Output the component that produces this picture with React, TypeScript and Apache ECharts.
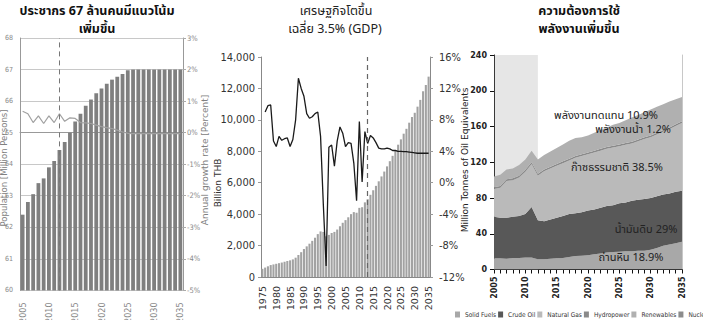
import React, { useEffect, useRef } from "react";
import * as echarts from "echarts";

// ---------- Chart 1: population ----------
const popYears = ["2005","2006","2007","2008","2009","2010","2011","2012","2013","2014","2015","2016","2017","2018","2019","2020","2021","2022","2023","2024","2025","2026","2027","2028","2029","2030","2031","2032","2033","2034","2035"];
const population = [62.4, 62.8, 63.05, 63.4, 63.55, 63.9, 64.1, 64.45, 64.7, 65.0, 65.35, 65.6, 65.85, 66.05, 66.25, 66.4, 66.55, 66.68, 66.77, 66.86, 66.98, 67, 67, 67, 67, 67, 67, 67, 67, 67, 67];
const popGrowth = [0.68, 0.6, 0.32, 0.53, 0.29, 0.53, 0.32, 0.6, 0.36, 0.47, 0.45, 0.32, 0.31, 0.29, 0.24, 0.19, 0.16, 0.13, 0.08, 0.02, -0.02, -0.03, -0.03, -0.03, -0.03, -0.03, -0.03, -0.03, -0.03, -0.03, -0.03];

// ---------- Chart 2: GDP ----------
const gdpYears = ["1975","1976","1977","1978","1979","1980","1981","1982","1983","1984","1985","1986","1987","1988","1989","1990","1991","1992","1993","1994","1995","1996","1997","1998","1999","2000","2001","2002","2003","2004","2005","2006","2007","2008","2009","2010","2011","2012","2013","2014","2015","2016","2017","2018","2019","2020","2021","2022","2023","2024","2025","2026","2027","2028","2029","2030","2031","2032","2033","2034","2035"];
const gdp = [520, 600, 680, 760, 800, 840, 880, 920, 970, 1020, 1060, 1120, 1230, 1400, 1580, 1780, 1950, 2120, 2300, 2500, 2730, 2900, 2870, 2590, 2680, 2800, 2870, 3020, 3230, 3450, 3620, 3800, 4000, 4130, 4090, 4400, 4440, 4750, 4950, 5230, 5520, 5800, 6090, 6400, 6710, 7040, 7370, 7710, 8060, 8420, 8760, 9120, 9430, 9820, 10180, 10450, 10840, 11270, 11820, 12220, 12750];
const gdpGrowth = [null, 9.0, 9.8, 9.9, 5.3, 4.6, 5.9, 5.4, 5.6, 5.7, 4.6, 5.5, 8.0, 13.3, 12.0, 11.0, 8.8, 8.2, 8.4, 8.8, 9.0, 5.9, -2.8, -10.6, 4.5, 4.8, 2.1, 5.3, 7.1, 6.3, 4.6, 5.1, 5.0, 2.5, -2.3, 7.8, 0.1, 6.5, 5.0, 6.0, 5.7, 5.1, 4.4, 4.3, 4.3, 4.4, 4.3, 4.1, 4.1, 4.0, 4.0, 3.95, 3.95, 3.9, 3.85, 3.8, 3.75, 3.75, 3.75, 3.75, 3.75];

// ---------- Chart 3: energy demand ----------
const energyYears = ["2005","2006","2007","2008","2009","2010","2011","2012","2013","2014","2015","2016","2017","2018","2019","2020","2021","2022","2023","2024","2025","2026","2027","2028","2029","2030","2031","2032","2033","2034","2035"];
const solidFuels = [12.5, 12.5, 12, 13, 13, 13.5, 13.5, 11.5, 11.5, 12, 12.5, 13, 14, 15, 15.5, 16, 17, 18, 19, 19.5, 20, 20.5, 20.5, 21, 21, 22, 24, 26.5, 28, 29.5, 31];
const crudeOil = [46.5, 45.5, 46, 46, 47, 48.5, 56.5, 43.5, 42.5, 44, 45.5, 47, 48, 48, 48.5, 50, 50, 51, 52, 52.5, 54, 54.5, 56.5, 57, 58, 58, 58, 57.5, 57, 57.5, 57];
const naturalGas = [31, 33.5, 41, 41, 43, 47.5, 48, 50, 56, 57, 58, 59, 60, 62, 63, 63, 64, 64, 64, 64.5, 64, 64.5, 64, 65.5, 67, 68, 69, 70, 72, 73.5, 76];
const hydropower = [2, 2, 2, 2, 2, 2, 2, 2, 2, 2, 2, 2, 2, 2, 2, 2, 2, 2, 2, 2, 2, 2, 2, 2, 2, 2, 2, 2, 2, 2, 2];
const renewables = [12, 12.5, 11, 11, 12, 11.5, 13, 16, 16, 17, 18, 19, 20, 20, 19, 19, 20, 21, 22, 23.5, 24, 25.5, 27, 27.5, 28, 29, 29, 29, 29, 28, 27];
const nuclear = [0, 0, 0, 0, 0, 0, 0, 0, 0, 0, 0, 0, 0, 0, 0, 0, 0, 0, 0, 0, 0, 0, 0, 0, 0, 0, 0, 0, 0, 0, 0];
const energyNames = ["Solid Fuels", "Crude Oil", "Natural Gas", "Hydropower", "Renewables", "Nuclear"];
const energyColors = ["#a8a8a8", "#585858", "#bababa", "#8a8a8a", "#b0b0b0", "#8c8c8c"];

const NARROW = "'Liberation Sans Narrow', 'DejaVu Sans Condensed', 'Arial Narrow', sans-serif";
const SANS = "'DejaVu Sans', Verdana, sans-serif";
const THAI = "'Noto Sans Thai', 'Noto Sans', 'DejaVu Sans', sans-serif";

function buildOption() {
  const energySeries = [solidFuels, crudeOil, naturalGas, hydropower, renewables, nuclear].map((d, i) => ({
    name: energyNames[i],
    type: "line",
    xAxisIndex: 2,
    yAxisIndex: 4,
    stack: "energy",
    data: d,
    symbol: "none",
    lineStyle: { width: 0 },
    itemStyle: { color: energyColors[i] },
    areaStyle: { color: energyColors[i], opacity: 1 },
  }));

  const text = (x: number, y: number, t: string, style: any, rotation = 0) => ({
    type: "text",
    x,
    y,
    rotation,
    z: 50,
    style: { text: t, align: "center", verticalAlign: "middle", ...style },
  });

  return {
    animation: false,
    grid: [
      { left: 20, top: 38, width: 163, height: 257 },
      { left: 261, top: 57, width: 169, height: 220 },
      { left: 494, top: 55, width: 188, height: 214.5 },
    ],
    legend: {
      data: energyNames,
      left: 455,
      top: 311,
      width: 600,
      padding: 0,
      icon: "rect",
      itemWidth: 5,
      itemHeight: 6,
      itemGap: 2,
      textStyle: { fontSize: 6.5, fontFamily: NARROW, color: "#333" },
    },
    xAxis: [
      {
        type: "category", gridIndex: 0, data: popYears,
        axisLine: { lineStyle: { color: "#999" } },
        axisTick: { interval: 0, length: 4, lineStyle: { color: "#aaa" } },
        axisLabel: { interval: 4, rotate: 90, fontSize: 9, color: "#888", fontFamily: NARROW, margin: 12 },
      },
      {
        type: "category", gridIndex: 1, data: gdpYears,
        axisLine: { lineStyle: { color: "#888" } },
        axisTick: { interval: 0, length: 3, lineStyle: { color: "#999" } },
        axisLabel: { interval: 4, rotate: 90, fontSize: 9.5, color: "#333", fontFamily: SANS, margin: 9 },
      },
      {
        type: "category", gridIndex: 2, data: energyYears, boundaryGap: false,
        axisLine: { lineStyle: { color: "#111" } },
        axisTick: { interval: 0, length: 4, lineStyle: { color: "#111" } },
        axisLabel: { interval: 4, rotate: 90, fontSize: 8, fontWeight: "bold", color: "#222", fontFamily: SANS, margin: 7 },
      },
    ],
    yAxis: [
      {
        type: "value", gridIndex: 0, min: 60, max: 68, interval: 1,
        axisLine: { show: true, lineStyle: { color: "#999" } },
        axisTick: { show: false },
        splitLine: { lineStyle: { color: "#c8c8c8" } },
        axisLabel: { fontSize: 7, color: "#888", fontFamily: NARROW, margin: 7 },
      },
      {
        type: "value", gridIndex: 0, position: "right", min: -5, max: 3, interval: 1,
        axisLine: { show: true, lineStyle: { color: "#999" } },
        axisTick: { show: true, length: 3, lineStyle: { color: "#aaa" } },
        splitLine: { show: false },
        axisLabel: { fontSize: 7.5, color: "#888", fontFamily: NARROW, margin: 4, formatter: (v: number) => v + "%" },
      },
      {
        type: "value", gridIndex: 1, min: 0, max: 14000, interval: 2000,
        axisLine: { show: true, lineStyle: { color: "#888" } },
        axisTick: { show: true, length: 3, lineStyle: { color: "#999" } },
        splitLine: { show: false },
        axisLabel: { fontSize: 11, color: "#333", fontFamily: NARROW, margin: 6, formatter: (v: number) => v.toLocaleString("en-US") },
      },
      {
        type: "value", gridIndex: 1, position: "right", min: -12, max: 16, interval: 4,
        axisLine: { show: true, lineStyle: { color: "#888" } },
        axisTick: { show: true, length: 3, lineStyle: { color: "#999" } },
        splitLine: { show: false },
        axisLabel: { fontSize: 11, color: "#333", fontFamily: NARROW, margin: 9, formatter: (v: number) => v + "%" },
      },
      {
        type: "value", gridIndex: 2, min: 0, max: 240, interval: 40,
        axisLine: { show: true, lineStyle: { color: "#111" } },
        axisTick: { show: true, length: 4, lineStyle: { color: "#111" } },
        splitLine: { show: false },
        axisLabel: { fontSize: 8, fontWeight: "bold", color: "#222", fontFamily: SANS, margin: 7 },
      },
      {
        type: "value", gridIndex: 2, position: "right", min: 0, max: 240, interval: 40,
        axisLine: { show: true, lineStyle: { color: "#c8c8c8" } },
        axisTick: { show: false },
        axisLabel: { show: false },
        splitLine: { show: false },
      },
    ],
    series: [
      {
        name: "Population", type: "bar", xAxisIndex: 0, yAxisIndex: 0, data: population,
        barCategoryGap: "28%", itemStyle: { color: "#7f7f7f" },
        markLine: {
          silent: true, symbol: "none", label: { show: false },
          lineStyle: { type: [5, 4], color: "#777", width: 1 },
          data: [{ xAxis: "2012" }],
        },
      },
      {
        name: "Pop growth", type: "line", xAxisIndex: 0, yAxisIndex: 1, data: popGrowth,
        symbol: "none", lineStyle: { color: "#a0a0a0", width: 1.2 }, z: 4,
      },
      {
        name: "GDP", type: "bar", xAxisIndex: 1, yAxisIndex: 2, data: gdp,
        barCategoryGap: "25%", itemStyle: { color: "#a2a2a2" },
        markLine: {
          silent: true, symbol: "none", label: { show: false },
          lineStyle: { type: [5, 4], color: "#666", width: 1.2 },
          data: [{ xAxis: "2013" }],
        },
      },
      {
        name: "GDP growth", type: "line", xAxisIndex: 1, yAxisIndex: 3, data: gdpGrowth,
        symbol: "none", lineStyle: { color: "#1a1a1a", width: 1.3 }, z: 4,
      },
      ...energySeries,
      {
        name: "history", type: "line", xAxisIndex: 2, yAxisIndex: 4, data: [], z: 5,
        markArea: {
          silent: true,
          itemStyle: { color: "rgba(162,162,162,0.27)" },
          data: [[{ xAxis: "2005" }, { xAxis: "2012" }]],
        },
      },
    ],
    graphic: [
      // crop edge of the first panel (hides the leading digit of its year labels, as in the source image)
      { type: "rect", x: 0, y: 320, z: 40, shape: { width: 200, height: 6 }, style: { fill: "#fff" } },
      // titles
      text(97, 11, "ประชากร 67 ล้านคนมีแนวโน้ม", { font: `bold 12.5px ${THAI}`, fill: "#111" }),
      text(97, 29, "เพิ่มขึ้น", { font: `bold 12.5px ${THAI}`, fill: "#111" }),
      text(336, 11, "เศรษฐกิจโตขึ้น", { font: `12.5px ${THAI}`, fill: "#222" }),
      text(335, 29, "เฉลี่ย 3.5% (GDP)", { font: `12.5px ${THAI}`, fill: "#222" }),
      text(579, 11, "ความต้องการใช้", { font: `bold 12.5px ${THAI}`, fill: "#111" }),
      text(579, 29, "พลังงานเพิ่มขึ้น", { font: `bold 12.5px ${THAI}`, fill: "#111" }),
      // axis names
      text(4, 168, "Population [Million Persons]", { font: `8.5px ${SANS}`, fill: "#808080" }, Math.PI / 2),
      text(205, 160, "Annual growth rate [Percent]", { font: `9px ${SANS}`, fill: "#808080" }, Math.PI / 2),
      text(218, 183, "Billion THB", { font: `9px ${SANS}`, fill: "#333" }, Math.PI / 2),
      text(465, 160, "Million Tonnes of Oil Equivalents", { font: `9px ${SANS}`, fill: "#222" }, Math.PI / 2),
      // energy annotations
      text(606, 115, "พลังงานทดแทน 10.9%", { font: `11px ${THAI}`, fill: "#222" }),
      text(633, 129, "พลังงานน้ำ 1.2%", { font: `11px ${THAI}`, fill: "#222" }),
      text(617, 167, "ก๊าซธรรมชาติ 38.5%", { font: `11px ${THAI}`, fill: "#222" }),
      text(646, 229, "น้ำมันดิบ 29%", { font: `11px ${THAI}`, fill: "#222" }),
      text(631, 257, "ถ่านหิน 18.9%", { font: `11px ${THAI}`, fill: "#222" }),
    ],
  };
}

export default function App() {
  const ref = useRef<HTMLDivElement>(null);
  useEffect(() => {
    if (!ref.current) return;
    const chart = echarts.init(ref.current, undefined, { renderer: "svg" });
    chart.setOption(buildOption() as any);
    return () => chart.dispose();
  }, []);
  return (
    <div
      ref={ref}
      style={{ position: "absolute", left: 0, top: 0, width: 703, height: 326, background: "#fff" }}
    />
  );
}
